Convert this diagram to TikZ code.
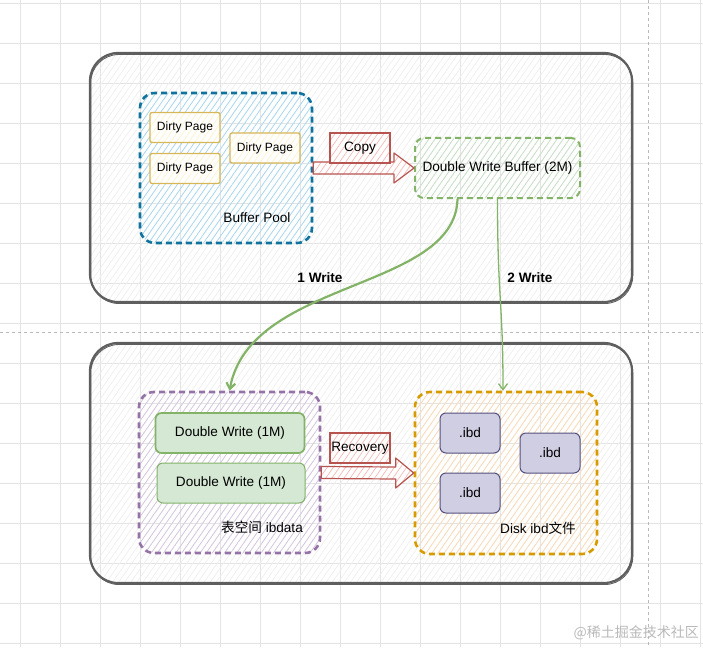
\documentclass[tikz,border=0pt]{standalone}
\usepackage{fontspec}
\setmainfont{Liberation Sans}
\newfontfamily\cjk{Noto Sans CJK SC}
\usetikzlibrary{patterns.meta,arrows.meta,calc}
\definecolor{cgrid}{HTML}{E4E4E4}
\definecolor{cout}{HTML}{5E5E5E}
\definecolor{cblue}{HTML}{10739E}
\definecolor{cbluef}{HTML}{A5D6F0}
\definecolor{cyel}{HTML}{D6B656}
\definecolor{cyelf}{HTML}{FFF2CC}
\definecolor{cred}{HTML}{B85450}
\definecolor{credf}{HTML}{F3B9B6}
\definecolor{cgreen}{HTML}{82B366}
\definecolor{cgreenf}{HTML}{D5E8D4}
\definecolor{cgreenh}{HTML}{C5DDC3}
\definecolor{cpurp}{HTML}{9673A6}
\definecolor{cpurpf}{HTML}{D5C3DF}
\definecolor{corg}{HTML}{D79B00}
\definecolor{corgf}{HTML}{FBD9B4}
\definecolor{cibd}{HTML}{56517E}
\definecolor{cibdf}{HTML}{D0CEE2}
\tikzset{
  gridline/.style={draw=cgrid, line width=0.6pt},
  pagebreak/.style={draw=gray!55, line width=0.6pt, dash pattern=on 3pt off 3pt},
  hatch/.style={pattern={Lines[angle=55,distance=5pt,line width=0.7pt]}, pattern color=#1},
  outerbox/.style={draw=cout, line width=2.2pt, rounded corners=28pt, hatch=gray!13, inner sep=0pt,
    postaction={draw=cout, line width=0.9pt, rounded corners=28pt, transform canvas={shift={(0.8pt,-1.5pt)}}}},
  container/.style={line width=2.6pt, dash pattern=on 6pt off 4pt, rounded corners=15pt, inner sep=0pt},
  txt/.style={font=\fontsize{13.6}{16}\selectfont, inner sep=0pt},
  dirty/.style={draw=cyel, line width=1.3pt, preaction={fill=white}, hatch=cyelf, rounded corners=2pt, minimum width=70pt, minimum height=30pt, font=\fontsize{12}{14}\selectfont, inner sep=0pt},
  dwbox/.style={draw=cgreen, line width=1pt, fill=cgreenf, rounded corners=6pt, minimum width=149pt, minimum height=40pt, txt},
  ibdbox/.style={draw=cibd, line width=1pt, fill=cibdf, rounded corners=6pt, minimum width=60pt, minimum height=40pt, txt},
  lblbox/.style={draw=cred, line width=1.2pt, preaction={fill=white}, hatch=credf, minimum width=60pt, minimum height=30pt, txt},
  blockarrow/.style={draw=cred, line width=1.2pt, preaction={fill=white}, hatch=credf, line join=round},
  writearrow/.style={draw=cgreen, -{Straight Barb[length=6pt,width=9pt]}},
  wlabel/.style={font=\bfseries\fontsize{13.6}{16}\selectfont, inner sep=0pt},
}
\begin{document}
\begin{tikzpicture}[x=1pt,y=-1pt]
\useasboundingbox (0,0) rectangle (703,647);
% grid
\foreach \x in {20,60,...,700} \draw[gridline] (\x,0) -- (\x,647);
\foreach \y in {3,43,...,643} \draw[gridline] (0,\y) -- (703,\y);
\draw[pagebreak] (0,332) -- (703,332);
\draw[pagebreak] (648,0) -- (648,647);
% outer boxes
\node[outerbox, minimum width=542pt, minimum height=249pt] (top) at (361,177.5) {};
\node[outerbox, minimum width=542pt, minimum height=240pt] (bottom) at (361,463) {};
% buffer pool
\node[container, draw=cblue, hatch=cbluef, minimum width=172pt, minimum height=150pt] (bp) at (226,168) {};
\node[dirty] (dp1) at (185,127.5) {Dirty Page};
\node[dirty] (dp2) at (185,168.5) {Dirty Page};
\node[dirty] (dp3) at (265,148) {Dirty Page};
\node[txt] (bplbl) at (257,218) {Buffer Pool};
% double write buffer
\node[container, draw=cgreen, hatch=cgreenh, line width=2pt, rounded corners=9pt, minimum width=165pt, minimum height=60pt, txt] (dwb) at (497.5,168) {Double Write Buffer (2M)};
% copy arrow
\draw[blockarrow] ($(bp.east)+(0,-6)$) -- ($(dwb.west)+(-20,-6)$) -- ($(dwb.west)+(-20,-15)$) -- (dwb.west) -- ($(dwb.west)+(-20,15)$) -- ($(dwb.west)+(-20,6)$) -- ($(bp.east)+(0,6)$) -- cycle;
\node[lblbox] (copy) at (360,148) {Copy};
% ibdata
\node[container, draw=cpurp, hatch=cpurpf, minimum width=181pt, minimum height=161pt] (ibdata) at (229.5,472.5) {};
\node[dwbox, line width=1.7pt] (dw1) at (230,433) {Double Write (1M)};
\node[dwbox, minimum width=148pt] (dw2) at (231,483) {Double Write (1M)};
\node[txt] (iblbl) at (262,527) {{\cjk 表空间} ibdata};
% disk
\node[container, draw=corg, hatch=corgf, minimum width=182pt, minimum height=162pt] (disk) at (506,473) {};
\node[ibdbox] (ibd1) at (470,433) {.ibd};
\node[ibdbox] (ibd2) at (470,493) {.ibd};
\node[ibdbox] (ibd3) at (550,453) {.ibd};
\node[txt] (dklbl) at (538,528) {Disk ibd{\cjk 文件}};
% recovery arrow
\draw[blockarrow] ($(ibdata.east)+(0,-6)$) -- ($(disk.west)+(-18,-6)$) -- ($(disk.west)+(-18,-15)$) -- (disk.west) -- ($(disk.west)+(-18,15)$) -- ($(disk.west)+(-18,6)$) -- ($(ibdata.east)+(0,6)$) -- cycle;
\node[lblbox] (recov) at (360,448) {Recovery};
% writes
\draw[writearrow, line width=2.2pt] ($(dwb.south)+(-40,0)$) .. controls +(-2.5,92) and +(20.5,-112) .. (ibdata.north);
\draw[writearrow, line width=1.3pt] (dwb.south) .. controls +(0,100) and +(0,-90) .. ($(disk.north)+(-3,0)$);
\node[wlabel] (w1) at (320,278) {1 Write};
\node[wlabel] (w2) at (530,278) {2 Write};
% watermark
\node[anchor=east, inner sep=0pt, text=gray!55, font=\fontsize{14}{16}\selectfont] (wm) at (699,633) {\cjk @稀土掘金技术社区};
\end{tikzpicture}
\end{document}
